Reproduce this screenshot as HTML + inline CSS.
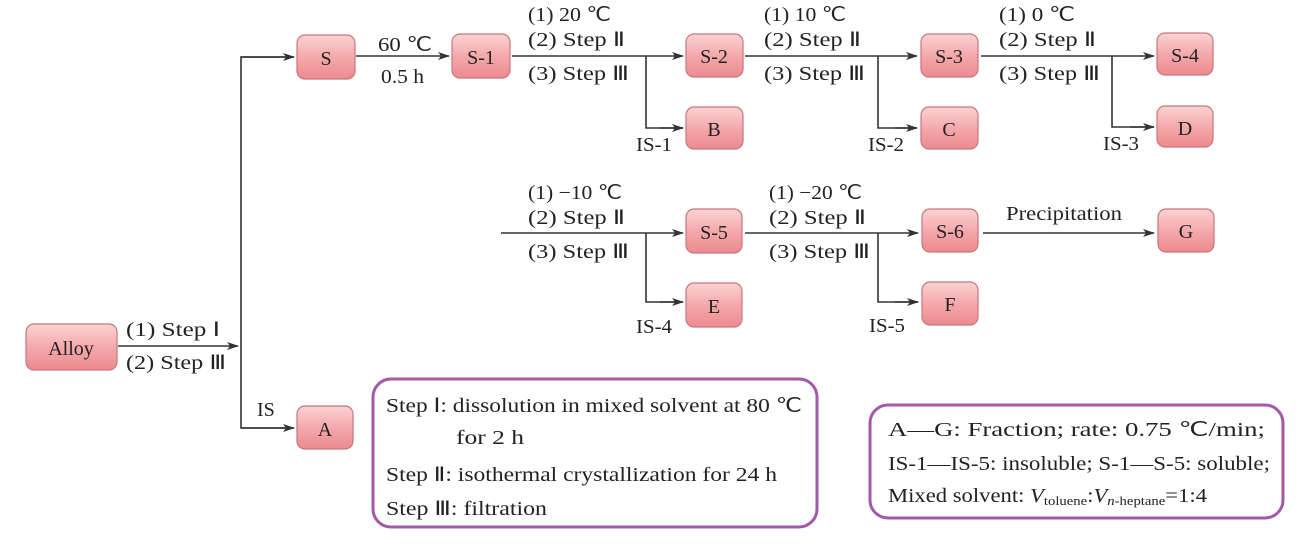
<!DOCTYPE html>
<html><head><meta charset="utf-8"><style>
html,body{margin:0;padding:0;background:#fff;}
svg{display:block;}
text{font-family:"Liberation Serif",serif;font-size:20px;fill:#222;}
</style></head><body>
<svg width="1302" height="548" viewBox="0 0 1302 548" xmlns="http://www.w3.org/2000/svg">
<defs>
<linearGradient id="g" x1="0" y1="0" x2="0" y2="1">
<stop offset="0" stop-color="#fbd3d4"/><stop offset="0.5" stop-color="#f4a9ac"/><stop offset="1" stop-color="#ec8a8f"/>
</linearGradient>
<marker id="ar" markerWidth="12" markerHeight="8" refX="11" refY="4" orient="auto" markerUnits="userSpaceOnUse">
<path d="M0,0 L12,4 L0,8 L3,4 Z" fill="#333"/>
</marker>
</defs>
<g stroke="#333" stroke-width="1.6" fill="none">
<line x1="118" y1="346" x2="238" y2="346" marker-end="url(#ar)"/>
<polyline points="294,57 241,57 241,428 294,428"/>
<line x1="241" y1="57" x2="294" y2="57" marker-end="url(#ar)"/>
<line x1="241" y1="428" x2="294" y2="428" marker-end="url(#ar)"/>
<line x1="356" y1="56" x2="449" y2="56" marker-end="url(#ar)"/>
<line x1="512" y1="56" x2="683" y2="56" marker-end="url(#ar)"/>
<polyline points="646,56 646,128 683,128"/><line x1="660" y1="128" x2="683" y2="128" marker-end="url(#ar)"/>
<line x1="745" y1="56" x2="917" y2="56" marker-end="url(#ar)"/>
<polyline points="878,56 878,128 917,128"/><line x1="895" y1="128" x2="917" y2="128" marker-end="url(#ar)"/>
<line x1="981" y1="56" x2="1154" y2="56" marker-end="url(#ar)"/>
<polyline points="1112,56 1112,127 1154,127"/><line x1="1130" y1="127" x2="1154" y2="127" marker-end="url(#ar)"/>
<line x1="501" y1="233" x2="683" y2="233" marker-end="url(#ar)"/>
<polyline points="646,233 646,302 683,302"/><line x1="660" y1="302" x2="683" y2="302" marker-end="url(#ar)"/>
<line x1="745" y1="233" x2="918" y2="233" marker-end="url(#ar)"/>
<polyline points="878,233 878,302 918,302"/><line x1="895" y1="302" x2="918" y2="302" marker-end="url(#ar)"/>
<line x1="983" y1="233" x2="1154" y2="233" marker-end="url(#ar)"/>
</g>
<g stroke="#c7767b" stroke-width="1.2" fill="url(#g)">
<rect x="26" y="324" width="91" height="46" rx="8"/>
<rect x="297" y="35" width="58" height="44" rx="8"/>
<rect x="452" y="34" width="58" height="44" rx="8"/>
<rect x="686" y="34" width="57" height="43" rx="8"/>
<rect x="921" y="34" width="57" height="43" rx="8"/>
<rect x="1157" y="33" width="56" height="42" rx="8"/>
<rect x="686" y="107" width="57" height="42" rx="8"/>
<rect x="921" y="107" width="57" height="42" rx="8"/>
<rect x="1157" y="106" width="56" height="41" rx="8"/>
<rect x="686" y="209" width="56" height="44" rx="8"/>
<rect x="922" y="209" width="56" height="43" rx="8"/>
<rect x="1158" y="209" width="56" height="43" rx="8"/>
<rect x="686" y="283" width="56" height="44" rx="8"/>
<rect x="922" y="282" width="56" height="43" rx="8"/>
<rect x="297" y="406" width="56" height="43" rx="8"/>
</g>
<g text-anchor="middle" style="font-size:21px">
<text x="71" y="355">Alloy</text>
<text x="326" y="65">S</text>
<text x="481" y="64">S-1</text>
<text x="714" y="63">S-2</text>
<text x="949" y="63">S-3</text>
<text x="1185" y="62">S-4</text>
<text x="714" y="136">B</text>
<text x="949" y="136">C</text>
<text x="1185" y="135">D</text>
<text x="714" y="239">S-5</text>
<text x="950" y="238">S-6</text>
<text x="1186" y="238">G</text>
<text x="714" y="313">E</text>
<text x="950" y="311">F</text>
<text x="325" y="436">A</text>
</g>
<text x="126" y="336" textLength="94" lengthAdjust="spacingAndGlyphs">(1) Step Ⅰ</text>
<text x="126" y="369" textLength="100" lengthAdjust="spacingAndGlyphs">(2) Step Ⅲ</text>
<text x="257" y="416">IS</text>
<text x="378" y="51" textLength="54" lengthAdjust="spacingAndGlyphs">60 ℃</text>
<text x="381" y="83" textLength="43" lengthAdjust="spacingAndGlyphs">0.5 h</text>
<text x="528" y="21" textLength="83" lengthAdjust="spacingAndGlyphs">(1) 20 ℃</text><text x="528" y="46" textLength="97" lengthAdjust="spacingAndGlyphs">(2) Step Ⅱ</text><text x="528" y="80" textLength="101" lengthAdjust="spacingAndGlyphs">(3) Step Ⅲ</text>
<text x="764" y="21" textLength="82" lengthAdjust="spacingAndGlyphs">(1) 10 ℃</text><text x="764" y="46" textLength="97" lengthAdjust="spacingAndGlyphs">(2) Step Ⅱ</text><text x="764" y="80" textLength="101" lengthAdjust="spacingAndGlyphs">(3) Step Ⅲ</text>
<text x="999" y="21" textLength="76" lengthAdjust="spacingAndGlyphs">(1) 0 ℃</text><text x="999" y="46" textLength="97" lengthAdjust="spacingAndGlyphs">(2) Step Ⅱ</text><text x="999" y="80" textLength="101" lengthAdjust="spacingAndGlyphs">(3) Step Ⅲ</text>
<text x="636" y="151" textLength="36" lengthAdjust="spacingAndGlyphs">IS-1</text><text x="868" y="151" textLength="36" lengthAdjust="spacingAndGlyphs">IS-2</text><text x="1103" y="150" textLength="36" lengthAdjust="spacingAndGlyphs">IS-3</text>
<text x="528" y="199" textLength="94" lengthAdjust="spacingAndGlyphs">(1) −10 ℃</text><text x="528" y="224" textLength="97" lengthAdjust="spacingAndGlyphs">(2) Step Ⅱ</text><text x="528" y="258" textLength="101" lengthAdjust="spacingAndGlyphs">(3) Step Ⅲ</text>
<text x="769" y="199" textLength="93" lengthAdjust="spacingAndGlyphs">(1) −20 ℃</text><text x="769" y="224" textLength="97" lengthAdjust="spacingAndGlyphs">(2) Step Ⅱ</text><text x="769" y="258" textLength="101" lengthAdjust="spacingAndGlyphs">(3) Step Ⅲ</text>
<text x="636" y="333" textLength="36" lengthAdjust="spacingAndGlyphs">IS-4</text><text x="869" y="332" textLength="36" lengthAdjust="spacingAndGlyphs">IS-5</text>
<text x="1006" y="220" textLength="116" lengthAdjust="spacingAndGlyphs">Precipitation</text>
<rect x="373" y="379" width="444" height="148" rx="18" fill="none" stroke="#a25aa8" stroke-width="3"/>
<text x="386" y="412" textLength="416" lengthAdjust="spacingAndGlyphs">Step Ⅰ: dissolution in mixed solvent at 80 ℃</text>
<text x="456" y="444" textLength="68" lengthAdjust="spacingAndGlyphs">for 2 h</text>
<text x="386" y="481" textLength="391" lengthAdjust="spacingAndGlyphs">Step Ⅱ: isothermal crystallization for 24 h</text>
<text x="386" y="515" textLength="161" lengthAdjust="spacingAndGlyphs">Step Ⅲ: filtration</text>
<rect x="870" y="405" width="413" height="113" rx="18" fill="none" stroke="#a25aa8" stroke-width="3"/>
<text x="888" y="436" textLength="377" lengthAdjust="spacingAndGlyphs">A—G: Fraction; rate: 0.75 ℃/min;</text>
<text x="888" y="470" textLength="382" lengthAdjust="spacingAndGlyphs">IS-1—IS-5: insoluble; S-1—S-5: soluble;</text>
<text x="888" y="502" textLength="319" lengthAdjust="spacingAndGlyphs">Mixed solvent: <tspan font-style="italic">V</tspan><tspan font-size="13" dy="3">toluene</tspan><tspan dy="-3">:</tspan><tspan font-style="italic">V</tspan><tspan font-size="13" dy="3"><tspan font-style="italic">n</tspan>-heptane</tspan><tspan dy="-3">=1:4</tspan></text>
</svg>
</body></html>
